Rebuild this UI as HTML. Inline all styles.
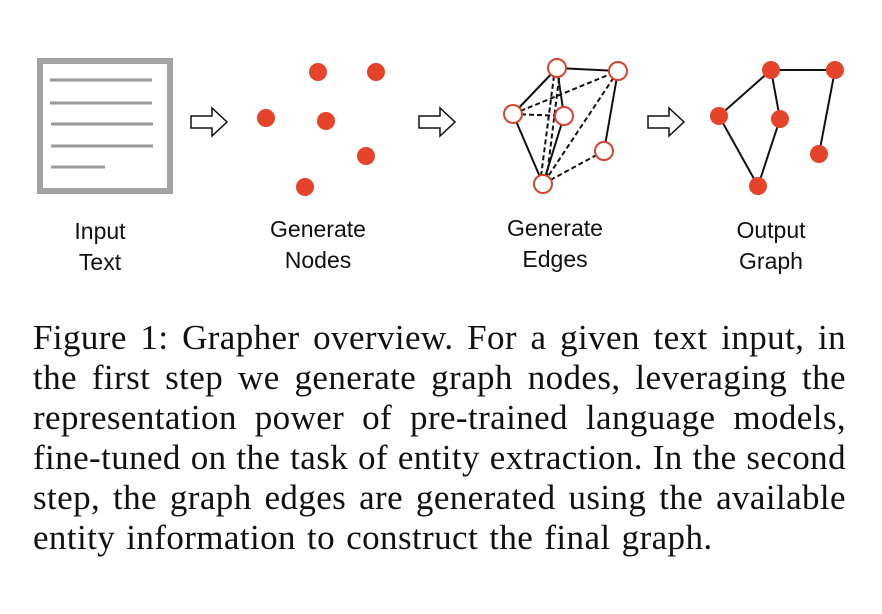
<!DOCTYPE html>
<html><head><meta charset="utf-8"><style>
body{margin:0;width:882px;height:614px;background:#fff;position:relative;overflow:hidden}
.lbl{position:absolute;font-family:"Liberation Sans",sans-serif;font-size:23px;color:#111;text-align:center;width:160px;line-height:31px}
.cap{position:absolute;left:33px;width:813px;font-family:"Liberation Serif",serif;font-size:35px;letter-spacing:0.4px;color:#111;text-align:justify;text-align-last:justify;white-space:nowrap;line-height:40px}
.cap.last{text-align-last:left;word-spacing:2px}
</style></head><body>
<svg width="882" height="300" style="position:absolute;left:0;top:0">
<rect x="40" y="61" width="130" height="130" fill="none" stroke="#a3a3a3" stroke-width="6"/>
<g stroke="#9a9a9a" stroke-width="3">
<line x1="50" y1="80" x2="152" y2="80"/><line x1="50" y1="103" x2="152" y2="103"/>
<line x1="51" y1="124" x2="153" y2="124"/><line x1="51" y1="146" x2="153" y2="146"/>
<line x1="51" y1="167" x2="105" y2="167"/></g>
<g fill="#fff" stroke="#111" stroke-width="1.5">
<path d="M191,116 H212 V108 L227,122 L212,136 V128 H191 Z"/>
<path d="M419,116 H440 V108 L455,122 L440,136 V128 H419 Z"/>
<path d="M648,116 H669 V108 L684,122 L669,136 V128 H648 Z"/>
</g>
<g fill="#e6432b">
<circle cx="318" cy="72" r="9"/><circle cx="376" cy="72" r="9"/><circle cx="266" cy="118" r="9"/>
<circle cx="326" cy="121" r="9"/><circle cx="366" cy="156" r="9"/><circle cx="305" cy="187" r="9"/>
</g>
<g stroke="#111" stroke-width="2">
<line x1="557" y1="68" x2="618" y2="71"/><line x1="513" y1="114" x2="557" y2="68"/>
<line x1="557" y1="68" x2="564" y2="116"/><line x1="513" y1="114" x2="543" y2="184"/>
<line x1="564" y1="116" x2="543" y2="184"/><line x1="618" y1="71" x2="604" y2="151"/>
</g>
<g stroke="#111" stroke-width="2" stroke-dasharray="5,3">
<line x1="513" y1="114" x2="618" y2="71"/><line x1="513" y1="114" x2="564" y2="116"/>
<line x1="555" y1="68" x2="540" y2="184"/><line x1="560" y1="70" x2="546" y2="184"/>
<line x1="618" y1="71" x2="543" y2="184"/><line x1="604" y1="151" x2="543" y2="184"/>
</g>
<g fill="#fff" stroke="#d9442e" stroke-width="2">
<circle cx="557" cy="68" r="9"/><circle cx="618" cy="71" r="9"/><circle cx="513" cy="114" r="9"/>
<circle cx="564" cy="116" r="9"/><circle cx="604" cy="151" r="9"/><circle cx="543" cy="184" r="9"/>
</g>
<g stroke="#111" stroke-width="2">
<line x1="771" y1="70" x2="835" y2="70"/><line x1="771" y1="70" x2="719" y2="116"/>
<line x1="771" y1="70" x2="780" y2="119"/><line x1="719" y1="116" x2="758" y2="186"/>
<line x1="780" y1="119" x2="758" y2="186"/><line x1="835" y1="70" x2="819" y2="154"/>
</g>
<g fill="#e6432b">
<circle cx="771" cy="70" r="9"/><circle cx="835" cy="70" r="9"/><circle cx="719" cy="116" r="9"/>
<circle cx="780" cy="119" r="9"/><circle cx="819" cy="154" r="9"/><circle cx="758" cy="186" r="9"/>
</g>
</svg>
<div class="lbl" style="left:20px;top:216px">Input<br>Text</div>
<div class="lbl" style="left:238px;top:214px">Generate<br>Nodes</div>
<div class="lbl" style="left:475px;top:213px">Generate<br>Edges</div>
<div class="lbl" style="left:691px;top:215px">Output<br>Graph</div>
<div class="cap" style="top:318px">Figure 1: Grapher overview. For a given text input, in</div>
<div class="cap" style="top:358px">the first step we generate graph nodes, leveraging the</div>
<div class="cap" style="top:398px">representation power of pre-trained language models,</div>
<div class="cap" style="top:438px">fine-tuned on the task of entity extraction. In the second</div>
<div class="cap" style="top:478px">step, the graph edges are generated using the available</div>
<div class="cap last" style="top:518px">entity information to construct the final graph.</div>
</body></html>
